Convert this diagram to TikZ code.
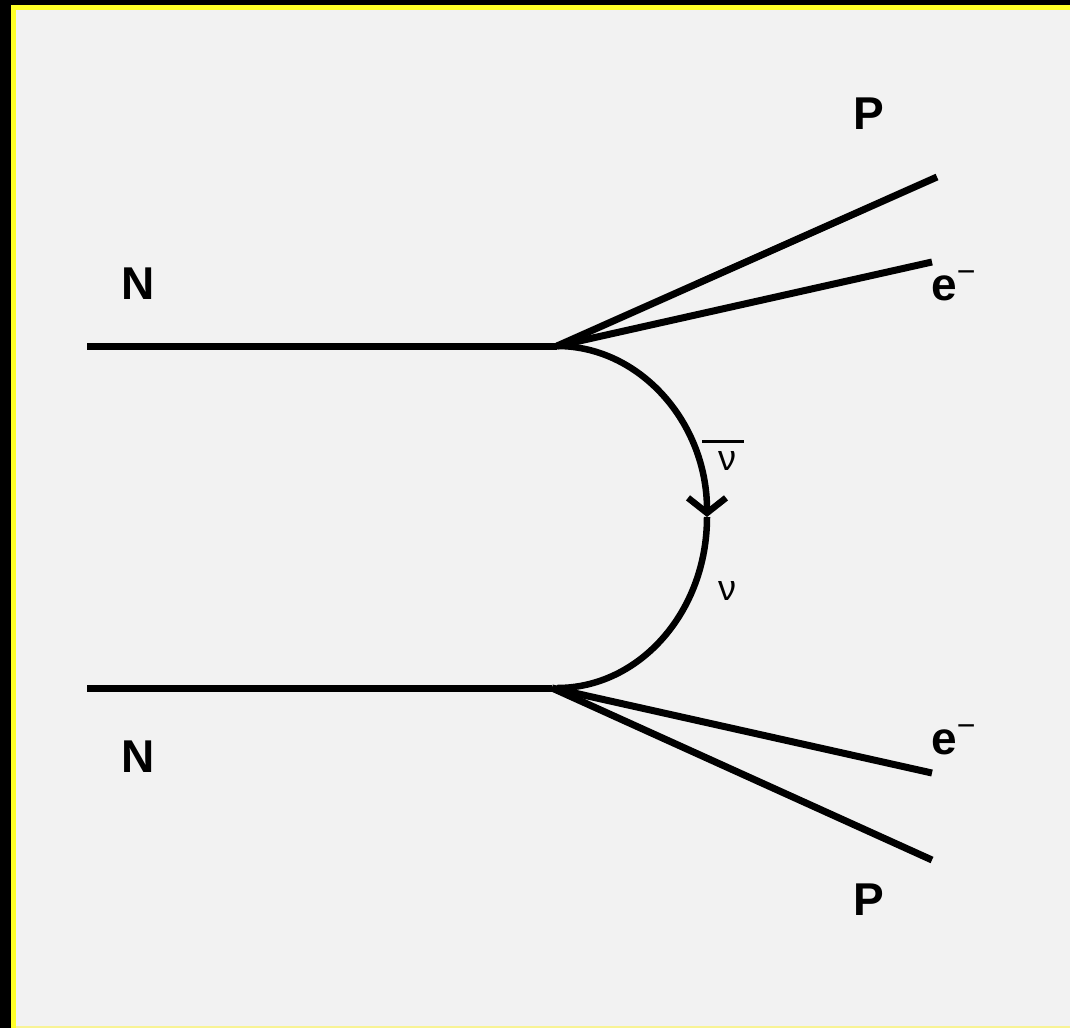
\documentclass[tikz,border=0pt]{standalone}
\usepackage{fontspec}
\setmainfont{Liberation Sans}
\usepackage{tikz}
\usetikzlibrary{arrows.meta}

\definecolor{bggray}{RGB}{242,242,242}
\definecolor{edgeyellow}{RGB}{255,255,40}

\newcommand{\elec}{e\kern0pt\raisebox{18pt}{\mdseries\fontsize{32}{32}\selectfont −}}

\begin{document}
\begin{tikzpicture}[x=1pt, y=-1pt, >=Stealth,
  track/.style={line width=7pt},
  heavy/.style={font=\bfseries\fontsize{46}{46}\selectfont, inner sep=0pt, anchor=base},
  greek/.style={font=\fontsize{36}{36}\selectfont, inner sep=0pt, anchor=base}]
\useasboundingbox (0,0) rectangle (1070,1028);

% Frame
\fill[bggray] (0,0) rectangle (1070,1028);
\fill[black] (0,0) rectangle (1070,5);
\fill[black] (0,0) rectangle (11,1028);
\fill[edgeyellow] (11,5) rectangle (1070,10);
\fill[edgeyellow] (11,5) rectangle (16,1028);
\fill[yellow!40!bggray] (16,1026) rectangle (1070,1028);

% Vertices and free ends
\coordinate (A) at (87,346);
\coordinate (V1) at (557,346);
\coordinate (B) at (87,688);
\coordinate (V2) at (552,688);
\coordinate (P1) at (937,177);
\coordinate (E1) at (932,262);
\coordinate (E2) at (932,773);
\coordinate (P2) at (932,860);

% Nuclei
\draw[track] (A) -- (V1);
\draw[track] (B) -- (V2);

% Outgoing
\draw[track] (V1) -- (P1);
\draw[track] (V1) -- (E1);
\draw[track] (V2) -- (E2);
\draw[track] (V2) -- (P2);

% Neutrino line
\draw[line width=6.5pt, -{Straight Barb[length=15pt, width=38pt]}]
  (V1) arc[start angle=-90, end angle=0, x radius=150, y radius=171] coordinate (M);
\draw[line width=6.5pt] (M) arc[start angle=0, end angle=90, x radius=150, y radius=171];

% Labels
\node[heavy] (n1) at (138,299) {N};
\node[heavy] (n2) at (138,772) {N};
\node[heavy] (p1) at (869,129) {P};
\node[heavy] (p2) at (869,915) {P};
\node[heavy, anchor=base west] (e1) at (931,300) {\elec};
\node[heavy, anchor=base west] (e2) at (931,754) {\elec};
\node[greek] (nubar) at (727,470) {ν};
\node[greek] (nu) at (727,600) {ν};
\draw[line width=3pt] (702,441) -- (744,441);
\end{tikzpicture}
\end{document}
